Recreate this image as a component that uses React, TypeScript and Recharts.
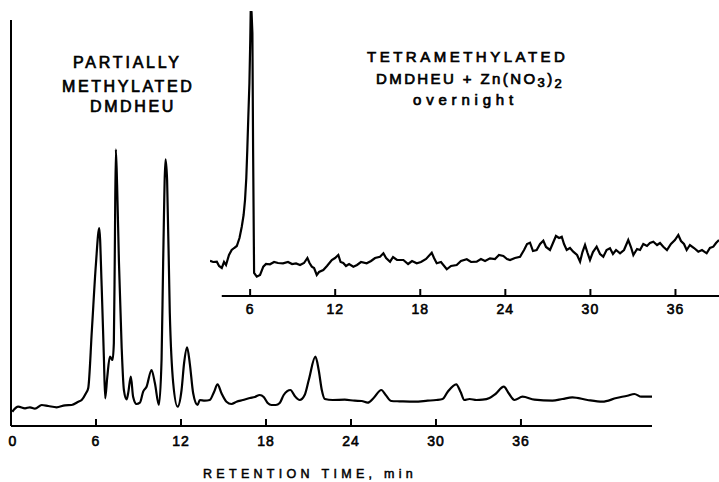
import React from 'react';
import { LineChart, Line, XAxis, YAxis, ReferenceLine } from 'recharts';

// Main chromatogram: partially methylated DMDHEU
const mainTime = [
  0.09, 0.51, 0.99, 1.34, 1.69, 2.17, 2.63, 3.22, 3.81, 4.28,
  4.75, 4.99, 5.29, 5.45, 5.71, 5.99, 6.23, 6.40, 6.56, 6.65,
  6.79, 6.98, 7.17, 7.26, 7.33, 7.40, 7.49, 7.62, 7.81, 7.97,
  8.16, 8.27, 8.46, 8.62, 8.86, 9.10, 9.33, 9.57, 9.92, 10.16,
  10.44, 10.63, 10.74, 10.91, 11.02, 11.21, 11.45, 11.76, 12.04, 12.22,
  12.43, 12.62, 12.86, 13.17, 13.33, 13.68, 14.03, 14.34, 14.58, 14.86,
  15.21, 15.56, 15.92, 16.37, 16.86, 17.21, 17.56, 17.84, 18.12, 18.39,
  18.69, 18.97, 19.25, 19.73, 20.03, 20.38, 20.73, 21.02, 21.49, 21.72,
  21.94, 22.15, 22.71, 23.56, 24.26, 24.75, 25.18, 25.60, 26.14, 26.45,
  26.85, 27.43, 28.49, 29.41, 30.02, 30.47, 30.82, 31.43, 31.74, 32.00,
  32.37, 32.86, 33.29, 33.78, 34.20, 34.79, 35.12, 35.54, 36.11, 36.95,
  38.22, 38.93, 39.63, 40.69, 41.75, 42.74, 43.51, 44.01, 44.50, 45.25,
];
const mainSignal = [
  14.3, 19.3, 17.7, 18.7, 17.3, 21, 20, 18.7, 20.7, 21,
  24.3, 26, 32.7, 37.7, 96, 161, 198, 140, 67, 27.7,
  48, 69.3, 66, 83, 176, 276.7, 241, 164, 79.3, 36,
  26.7, 32.7, 49.3, 29.3, 22, 23.3, 34.3, 39.3, 56, 42.7,
  21, 67, 163, 266.7, 246, 113, 43, 19.3, 36, 63,
  78.7, 62.7, 32.7, 21, 26, 25.3, 26, 34.3, 41.7, 32.7,
  24.3, 22, 24.3, 26, 28, 29, 31, 29, 23, 21,
  21, 23, 31, 36, 30, 26, 31, 46, 69.3, 56,
  36, 27, 26, 26.3, 25.3, 25, 23.3, 28, 36, 31,
  25, 24.7, 24.3, 25.3, 26, 27, 34, 41.7, 34, 26,
  27, 26, 26.3, 28, 32, 39.3, 33, 26, 29.3, 26.3,
  25.3, 27, 28.7, 26, 24.3, 28, 30.3, 32, 29.3, 29.3,
];

// Inset chromatogram: tetramethylated DMDHEU + Zn(NO3)2 overnight
const insetTime = [
  3.17, 3.39, 3.65, 3.81, 4.00, 4.16, 4.30, 4.51, 4.70, 4.87,
  5.06, 5.25, 5.41, 5.54, 5.64, 5.73, 5.80, 5.87, 5.95, 6.01,
  6.04, 6.10, 6.16, 6.21, 6.28, 6.47, 6.70, 6.93, 7.12, 7.40,
  7.69, 7.97, 8.32, 8.67, 8.96, 9.24, 9.52, 9.80, 10.04, 10.19,
  10.35, 10.51, 10.70, 10.86, 11.16, 11.42, 11.76, 11.99, 12.22, 12.38,
  12.57, 12.76, 12.98, 13.28, 13.54, 13.82, 14.22, 14.53, 14.81, 15.16,
  15.40, 15.59, 15.87, 16.08, 16.36, 16.81, 17.14, 17.42, 17.75, 18.05,
  18.41, 18.81, 18.97, 19.16, 19.46, 19.87, 20.17, 20.57, 20.87, 21.28,
  21.58, 21.98, 22.28, 22.57, 22.92, 23.27, 23.55, 23.86, 24.12, 24.33,
  24.68, 25.04, 25.32, 25.53, 25.74, 25.95, 26.21, 26.45, 26.68, 26.87,
  27.15, 27.36, 27.57, 27.79, 27.98, 28.14, 28.33, 28.56, 28.79, 29.06,
  29.27, 29.44, 29.62, 29.80, 29.97, 30.18, 30.44, 30.68, 30.91, 31.14,
  31.38, 31.59, 31.81, 32.09, 32.37, 32.67, 32.86, 33.03, 33.29, 33.50,
  33.73, 33.99, 34.20, 34.44, 34.70, 34.91, 35.14, 35.40, 35.68, 35.96,
  36.20, 36.39, 36.60, 36.79, 37.02, 37.31, 37.61, 37.87, 38.20, 38.43,
  38.67, 38.86, 39.07,
];
const insetSignal = [
  35.3, 34, 34.3, 30, 28, 34, 31, 41, 46, 48,
  50, 58, 69.3, 81, 96, 118, 146, 178, 213, 256,
  284.3, 284, 263, 146, 23, 19.3, 21, 29.3, 32, 31.7,
  34, 33, 32.7, 34, 32, 32.5, 31, 33, 38, 33,
  29.3, 28, 21, 24, 26, 30, 36, 38, 41, 34,
  33, 30, 32, 29.3, 31, 34, 32.7, 35, 38, 39.3,
  42.7, 38, 34.3, 39, 36, 36, 32, 35, 32.7, 34,
  37, 43.3, 38, 32.7, 34, 26.7, 30, 31, 35, 36.7,
  34, 34.3, 37, 35, 37.7, 37, 41, 40, 37, 36,
  38, 39.3, 46, 52, 53.3, 45, 46, 52, 55.3, 49,
  46, 53, 60, 58, 59.3, 52, 46, 48, 44.3, 41,
  34.3, 44, 51, 43, 36, 44, 49.3, 42, 39.3, 46,
  47.7, 42, 46, 42.7, 46, 56, 49, 41, 47, 46,
  52, 50, 53, 54.3, 51, 53, 49.3, 46, 52, 56,
  61, 55, 52, 46, 51, 48, 44.3, 46, 42.7, 48,
  49.3, 53, 56,
];

const mainTicks = [0, 6, 12, 18, 24, 30, 36];
const insetTicks = [6, 12, 18, 24, 30, 36];

const mainData = mainTime.map((t, i) => ({ t, v: mainSignal[i] }));
const insetData = insetTime.map((t, i) => ({ t, v: insetSignal[i] }));

const FONT = '"Liberation Sans", Arial, Helvetica, sans-serif';

const makeTick = (labelDy: number) => (props: any) => {
  const { x, y, payload } = props;
  const isZero = payload.value === 0;
  return (
    <g>
      {!isZero && (
        <line x1={x} x2={x} y1={y - 7} y2={y} stroke="#000" strokeWidth={2} />
      )}
      <text
        x={isZero ? x + 2 : x}
        y={y + labelDy}
        textAnchor="middle"
        fontFamily={FONT}
        fontSize={14}
        fill="#000"
        stroke="#000"
        strokeWidth={0.6}
        letterSpacing={1}
      >
        {payload.value}
      </text>
    </g>
  );
};

const MainTick = makeTick(20);
const InsetTick = makeTick(17.5);

const textStyle = {
  fontFamily: FONT,
  fill: '#000',
  stroke: '#000',
  strokeWidth: 0.7,
} as const;

export default function App() {
  return (
    <div
      style={{
        position: 'absolute',
        left: 0,
        top: 0,
        width: 719,
        height: 482,
        background: '#fff',
      }}
    >
      <div style={{ position: 'absolute', left: 0, top: 0 }}>
        <LineChart
          width={719}
          height={482}
          data={mainData}
          margin={{ top: 20, right: 67, bottom: 0, left: 11 }}
        >
          <XAxis
            type="number"
            dataKey="t"
            domain={[0, 45.25]}
            ticks={mainTicks}
            interval={0}
            tick={MainTick}
            tickLine={false}
            tickSize={0}
            tickMargin={0}
            height={56}
            axisLine={{ stroke: '#000', strokeWidth: 2 }}
            allowDataOverflow
            label={{
              content: () => (
                <text x={203} y={478} style={{ ...textStyle, strokeWidth: 0.5, fontSize: 12.5, letterSpacing: 4.3 }}>
                  RETENTION TIME, min
                </text>
              ),
            }}
          />
          <YAxis hide domain={[0, 406]} allowDataOverflow />
          <ReferenceLine x={0} stroke="#000" strokeWidth={2} />
          <Line
            type="monotone"
            dataKey="v"
            stroke="#000"
            strokeWidth={2.2}
            dot={false}
            isAnimationActive={false}
          />
        </LineChart>
      </div>
      <div style={{ position: 'absolute', left: 0, top: 0 }}>
        <LineChart
          width={719}
          height={330}
          data={insetData}
          margin={{ top: 11, right: 0, bottom: 0, left: 210 }}
        >
          <XAxis
            type="number"
            dataKey="t"
            domain={[3.17, 39.07]}
            ticks={insetTicks}
            interval={0}
            tick={InsetTick}
            tickLine={false}
            tickSize={0}
            tickMargin={0}
            height={34}
            axisLine={false}
            allowDataOverflow
          />
          <YAxis hide domain={[0, 285]} allowDataOverflow />
          <ReferenceLine
            segment={[
              { x: 4, y: 0 },
              { x: 39.07, y: 0 },
            ]}
            stroke="#000"
            strokeWidth={2}
          />
          <Line
            type="linear"
            dataKey="v"
            stroke="#000"
            strokeWidth={2.2}
            dot={false}
            isAnimationActive={false}
          />
        </LineChart>
      </div>
      <svg
        width={719}
        height={482}
        style={{ position: 'absolute', left: 0, top: 0, pointerEvents: 'none' }}
      >
        <text x={73} y={68.3} style={{ ...textStyle, fontSize: 16, letterSpacing: 2.8 }}>
          PARTIALLY
        </text>
        <text x={62} y={91.7} style={{ ...textStyle, fontSize: 16, letterSpacing: 2.6 }}>
          METHYLATED
        </text>
        <text x={90} y={112.3} style={{ ...textStyle, fontSize: 16, letterSpacing: 2.6 }}>
          DMDHEU
        </text>
        <text x={367} y={62.3} style={{ ...textStyle, fontSize: 15, letterSpacing: 3.5 }}>
          TETRAMETHYLATED
        </text>
        <text x={376} y={84} style={{ ...textStyle, fontSize: 15, letterSpacing: 2.4 }}>
          DMDHEU + Zn(NO
          <tspan dy={3} fontSize={13}>3</tspan>
          <tspan dy={-3}>)</tspan>
          <tspan dy={4} fontSize={13}>2</tspan>
        </text>
        <text x={413} y={105.3} style={{ ...textStyle, fontSize: 15, letterSpacing: 4.8 }}>
          overnight
        </text>
      </svg>
    </div>
  );
}
